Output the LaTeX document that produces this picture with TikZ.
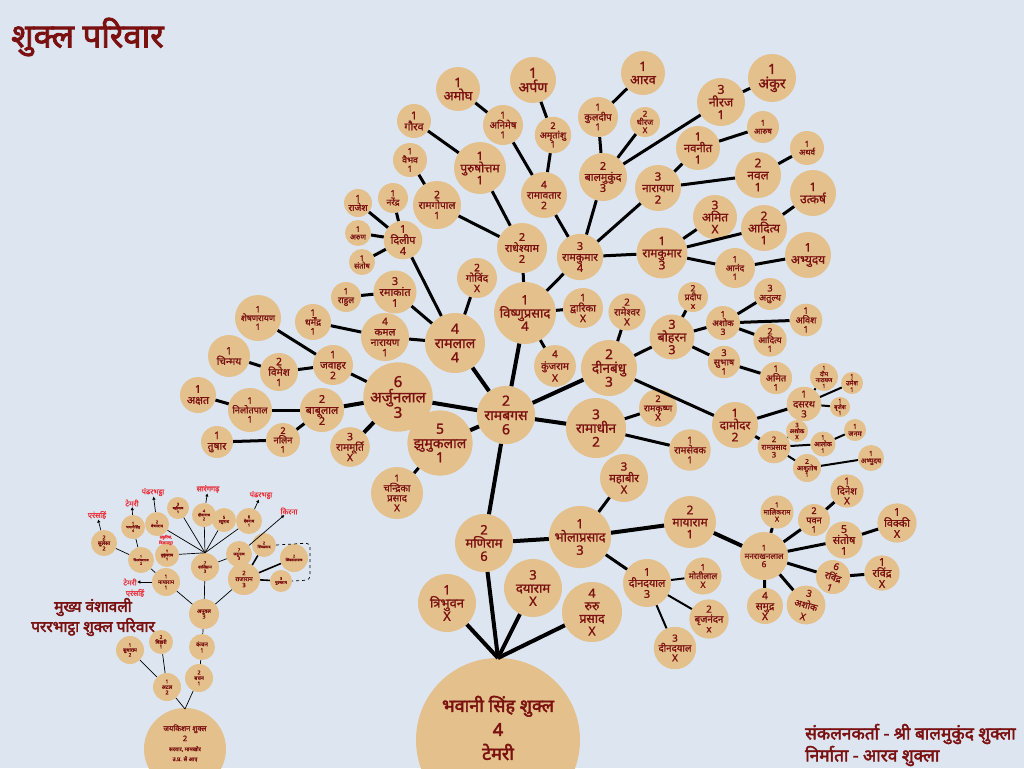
\documentclass[tikz,border=0pt]{standalone}
\usepackage{fontspec}
\newfontfamily\dev[Script=Devanagari, FakeBold=1.2]{Noto Sans}
\newfontfamily\devb[Script=Devanagari, FakeBold=2.6]{Noto Sans}
\usetikzlibrary{arrows.meta}
\definecolor{bgc}{HTML}{DDE6F0}
\definecolor{tanc}{HTML}{E3C08C}
\definecolor{dred}{HTML}{7A1010}
\definecolor{lred}{HTML}{E8303A}
\newcommand\pnode[6]{\node[pn, minimum size=#4*2pt, font=\dev\bfseries\fontsize{\fpeval{1.08*#5}}{\fpeval{1.1*#5}}\selectfont] (#1) at (#2,#3) {#6};}
\begin{document}
\begin{tikzpicture}[x=1pt,y=-1pt,
  pn/.style={circle, fill=tanc, text=dred, align=center, inner sep=0pt},
  edT/.style={line width=4pt},
  ed/.style={line width=3pt},
  edt/.style={line width=2pt},
  edm/.style={line width=0.7pt},
  edM/.style={line width=1.6pt},
  marr/.style={line width=0.7pt, -{Triangle[length=3pt,width=3pt]}},
  rlab/.style={text=lred, font=\dev\bfseries\fontsize{7.5}{7.5}\selectfont, inner sep=0.5pt, align=center},
  ttl/.style={text=dred, font=\devb\bfseries\fontsize{17.3}{20}\selectfont, inner sep=0pt}
]
\useasboundingbox (0,0) rectangle (1024,768);
\fill[bgc] (0,0) rectangle (1024,768);
\clip (0,0) rectangle (1024,768);

% ---------- titles ----------
\node[ttl, anchor=west, font=\devb\bfseries\fontsize{33}{33}\selectfont] (title) at (11,37) {शुक्ल परिवार};
\node[ttl, font=\devb\bfseries\fontsize{15.5}{20}\selectfont] (mt1) at (93,607) {मुख्य वंशावली};
\node[ttl, font=\devb\bfseries\fontsize{15.5}{20}\selectfont] (mt2) at (93,627) {पररभाट्ठा शुक्ल परिवार};
\node[ttl, anchor=west] (cr1) at (805,734) {संकलनकर्ता - श्री बालमुकुंद  शुक्ला};
\node[ttl, anchor=west] (cr2) at (805,756) {निर्माता - आरव शुक्ला};

% ---------- root ----------
\node[pn, minimum size=164pt] (root) at (498,740) {};
\node[text=dred, align=center, font=\devb\bfseries\fontsize{18}{24}\selectfont] (roottxt) at (498,728) {भवानी सिंह शुक्ल\\4\\टेमरी};
\coordinate (rtop) at (498,658);

\pnode{tribhuvan}{447}{603}{29}{12}{1\\त्रिभुवन\\X}
\pnode{maniram}{484}{543}{29}{12}{2\\मणिराम\\6}
\pnode{dayaram}{533}{588}{29}{12}{3\\दयाराम\\X}
\pnode{ruru}{592}{612}{30}{11.5}{4\\रुरु\\प्रसाद\\X}
\pnode{bhola}{580}{537}{30}{12}{1\\भोलाप्रसाद\\3}
\pnode{mahabir}{624}{478}{24}{10.5}{3\\महाबीर\\X}
\pnode{mayaram}{690}{522}{26}{11}{2\\मायाराम\\1}
\pnode{dindayalA}{647}{583}{24}{10}{1\\दीनदयाल\\3}
\pnode{dindayalB}{675}{648}{20}{9}{3\\दीनदयाल\\X}
\pnode{motilal}{703}{576}{18}{8}{1\\मोतीलाल\\X}
\pnode{brij}{709}{619}{19}{9}{2\\बृजनंदन\\x}
\pnode{manrakhan}{764}{556}{24}{7.5}{1\\मनराखनलाल\\6}
\pnode{malikram}{777}{512}{15}{6.5}{1\\मालिकराम\\X}
\pnode{pavan}{814}{520}{16}{8.5}{2\\पवन\\1}
\pnode{dinesh}{847}{491}{15}{9}{1\\दिनेश\\X}
\pnode{santoshB}{844}{540}{18}{10}{5\\संतोष\\1}
\pnode{vicky}{897}{523}{18}{10}{1\\विक्की\\X}
\node[pn, minimum size=34pt, font=\dev\bfseries\fontsize{9.5}{11}\selectfont, rotate=-18] (ravA) at (833,577) {6\\रविंद्र\\1};
\pnode{ravB}{882}{573}{17}{10}{1\\रविंद्र\\X}
\pnode{samudra}{765}{606}{18}{9.5}{4\\समुद्र\\X}
\node[pn, minimum size=36pt, font=\dev\bfseries\fontsize{9.5}{12}\selectfont, rotate=-15] (ashokC) at (806,605) {3\\अशोक\\X};

\pnode{ramadhin}{596}{428}{30}{12.5}{3\\रामाधीन\\2}
\pnode{ramkrishna}{658}{408}{18}{8.5}{2\\रामकृष्ण\\X}
\pnode{ramsevak}{690}{450}{20}{9}{1\\रामसेवक\\1}
\pnode{dinbandhu}{609}{368}{28}{12.5}{2\\दीनबंधु\\3}
\pnode{rameshwar}{627}{312}{18}{9}{2\\रामेश्वर\\X}
\pnode{bohran}{672}{337}{22}{11.5}{3\\बोहरन\\3}
\pnode{pradeep}{693}{297}{15}{8}{2\\प्रदीप\\x}
\pnode{ashokA}{723}{323}{17}{8}{1\\अशोक\\3}
\pnode{atulya}{770}{294}{16}{8.5}{3\\अतुल्य}
\pnode{avish}{806}{320}{16}{8.5}{1\\अविश\\1}
\pnode{adityaS}{770}{340}{15}{8}{2\\आदित्य\\1}
\pnode{subhash}{724}{362}{16}{8.5}{3\\सुभाष\\1}
\pnode{amitS}{776}{378}{16}{8.5}{1\\अमित\\1}
\pnode{damodar}{735}{425}{23}{11}{1\\दामोदर\\2}
\pnode{dasrath}{804}{404}{16}{9}{1\\दसरथ\\3}
\pnode{deep}{824}{377}{13}{5.5}{1\\दीप\\नारायण\\1}
\pnode{umesh}{852}{383}{11}{6}{1\\उमेश\\1}
\pnode{brijesh}{840}{407}{10}{5.5}{1\\बृजेश\\1}
\pnode{ramprasad}{774}{447}{16}{7}{2\\रामप्रसाद\\3}
\pnode{ashokT}{797}{431}{11}{5.5}{3\\अशोक\\X}
\pnode{alok}{823}{444}{12}{6}{1\\आलोक\\1}
\pnode{janam}{855}{430}{11}{6.5}{1\\जनम}
\pnode{abhyS}{871}{458}{13}{6.5}{1\\अभ्युदय}
\pnode{ashutosh}{807}{468}{14}{6}{2\\आशुतोष\\1}

\pnode{ramabagas}{506}{415}{29}{13}{2\\रामबगस\\6}
\pnode{vishnu}{525}{313}{29}{12}{1\\विष्णुप्रसाद\\4}
\pnode{dwarika}{583}{308}{20}{9.5}{1\\द्वारिका\\X}
\node[pn, minimum size=40pt, font=\dev\bfseries\fontsize{10}{12}\selectfont] (kunjram) at (555,366) {4\\कुंजराम\\X};
\pnode{radhe}{522}{248}{25}{10}{2\\राधेश्याम\\2}
\pnode{ramkumarA}{580}{257}{23}{10}{3\\रामकुमार\\4}
\pnode{govind}{477}{278}{20}{9.5}{2\\गोविंद\\X}
\pnode{ramlal}{455}{343}{30}{13}{4\\रामलाल\\4}
\pnode{arjun}{398}{397}{33}{14}{6\\अर्जुनलाल\\3}
\pnode{jhumuk}{440}{443}{30}{13}{5\\झुमुकलाल\\1}
\pnode{chandrika}{397}{493}{26}{9}{1\\चन्द्रिका\\प्रसाद\\X}

\pnode{amogh}{458}{89}{22}{12}{1\\अमोघ}
\pnode{arpan}{533}{80}{23}{13}{1\\अर्पण}
\pnode{aarav}{643}{73}{22}{12}{1\\आरव}
\pnode{gaurav}{414}{121}{17}{10}{1\\गौरव}
\pnode{animesh}{503}{125}{20}{9}{1\\अनिमेष\\1}
\pnode{amrit}{553}{135}{17}{8.5}{2\\अमृतांशु\\1}
\pnode{kuldeep}{598}{117}{20}{9}{1\\कुलदीप\\1}
\pnode{dheeraj}{645}{122}{15}{7.5}{2\\धीरज\\X}
\pnode{vaibhav}{410}{160}{17}{8}{1\\वैभव\\1}
\pnode{purush}{480}{168}{26}{11}{1\\पुरुषोत्तम\\1}
\pnode{ramavatar}{544}{195}{23}{9.5}{4\\रामावतार\\2}
\pnode{balmukund}{603}{177}{24}{10}{2\\बालमुकुंद\\3}
\pnode{ramgopal}{437}{205}{24}{9.5}{2\\रामगोपाल\\1}
\pnode{narayan}{658}{188}{23}{10.5}{3\\नारायण\\2}
\pnode{neeraj}{721}{102}{24}{11.5}{3\\नीरज\\1}
\pnode{ankur}{772}{78}{24}{13}{1\\अंकुर}
\pnode{aarush}{763}{127}{16}{7.5}{1\\आरुष}
\pnode{navneet}{698}{148}{22}{10.5}{1\\नवनीत\\1}
\pnode{atharv}{807}{148}{17}{7.5}{1\\अथर्व}
\pnode{naval}{758}{175}{23}{11}{2\\नवल\\1}
\pnode{utkarsh}{813}{193}{23}{11}{1\\उत्कर्ष}
\pnode{amitA}{715}{217}{22}{11}{3\\अमित\\X}
\pnode{adityaA}{764}{228}{23}{11}{2\\आदित्य\\1}
\pnode{ramkumarB}{662}{253}{25}{11}{1\\रामकुमार\\3}
\pnode{abhyA}{808}{255}{23}{11}{1\\अभ्युदय}
\pnode{anand}{735}{268}{20}{8}{1\\आनंद\\1}

\pnode{rajesh}{358}{203}{14}{8.5}{1\\राजेश}
\pnode{narendra}{393}{198}{15}{8}{1\\नरेंद्र}
\pnode{arun}{358}{233}{13}{7}{1\\अरुण}
\pnode{dilip}{403}{240}{19}{10}{1\\दिलीप\\4}
\pnode{santoshA}{362}{262}{13}{7}{1\\संतोष}
\pnode{rahul}{346}{297}{15}{8}{1\\राहुल}
\pnode{ramakant}{395}{292}{20}{10}{3\\रमाकांत\\1}
\pnode{shesh}{258}{318}{23}{8}{1\\शेषणरायण\\1}
\pnode{dharmendra}{313}{322}{18}{8.5}{1\\धर्मेंद्र\\1}
\pnode{kamal}{385}{337}{22}{9.5}{4\\कमल\\नारायण\\1}
\pnode{chinmay}{229}{356}{21}{9.5}{1\\चिन्मय}
\pnode{vimesh}{279}{372}{19}{9.5}{2\\विमेश\\1}
\pnode{jawahar}{333}{365}{20}{9.5}{1\\जवाहर\\2}
\pnode{akshat}{198}{395}{18}{10}{1\\अक्षत}
\pnode{nilotpal}{250}{410}{22}{8.5}{1\\निलोतपाल\\1}
\pnode{babulal}{322}{410}{19}{10}{2\\बाबूलाल\\2}
\pnode{tushar}{217}{442}{16}{9.5}{1\\तुषार}
\pnode{nalin}{283}{440}{17}{8.5}{2\\नलिन\\1}
\pnode{rammurti}{350}{447}{19}{9.5}{3\\राममूर्ति\\X}

% ---------- main edges ----------
\draw[edT] (tribhuvan) -- (rtop);
\draw[edT] (maniram) -- (rtop);
\draw[edT] (dayaram) -- (rtop);
\draw[edT] (ruru) -- (rtop);
\draw[edT] (maniram) -- (ramabagas);
\draw[edT] (maniram) -- (bhola);
\draw[edT] (bhola) -- (mayaram);
\draw[ed] (bhola) -- (mahabir);
\draw[ed] (bhola) -- (dindayalA);
\draw[edt] (dindayalA) -- (motilal);
\draw[edt] (dindayalA) -- (brij);
\draw[edt] (dindayalA) -- (dindayalB);
\draw[edT] (mayaram) -- (manrakhan);
\draw[ed] (manrakhan) -- (malikram);
\draw[ed] (manrakhan) -- (pavan);
\draw[ed] (manrakhan) -- (santoshB);
\draw[ed] (manrakhan) -- (ravA);
\draw[ed] (manrakhan) -- (ashokC);
\draw[ed] (manrakhan) -- (samudra);
\draw[ed] (pavan) -- (dinesh);
\draw[ed] (santoshB) -- (vicky);
\draw[ed] (ravA) -- (ravB);

\draw[edT] (ramabagas) -- (ramlal);
\draw[edT] (ramabagas) -- (vishnu);
\draw[edT] (ramabagas) -- (dinbandhu);
\draw[edT] (ramabagas) -- (ramadhin);
\draw[edT] (ramabagas) -- (arjun);
\draw[edT] (ramabagas) -- (jhumuk);
\draw[ed] (jhumuk) -- (chandrika);
\draw[ed] (ramadhin) -- (ramkrishna);
\draw[ed] (ramadhin) -- (ramsevak);
\draw[ed] (dinbandhu) -- (rameshwar);
\draw[ed] (dinbandhu) -- (bohran);
\draw[ed] (dinbandhu) -- (damodar);
\draw[ed] (bohran) -- (pradeep);
\draw[ed] (bohran) -- (ashokA);
\draw[ed] (bohran) -- (subhash);
\draw[ed] (ashokA) -- (atulya);
\draw[ed] (ashokA) -- (avish);
\draw[ed] (ashokA) -- (adityaS);
\draw[ed] (subhash) -- (amitS);
\draw[ed] (damodar) -- (dasrath);
\draw[ed] (damodar) -- (ramprasad);
\draw[edt] (dasrath) -- (deep);
\draw[edt] (dasrath) -- (umesh);
\draw[edt] (dasrath) -- (brijesh);
\draw[edt] (ramprasad) -- (ashokT);
\draw[edt] (ramprasad) -- (alok);
\draw[edt] (alok) -- (janam);
\draw[edt] (ramprasad) -- (ashutosh);
\draw[edt] (ashutosh) -- (abhyS);

\draw[ed] (vishnu) -- (radhe);
\draw[ed] (vishnu) -- (ramkumarA);
\draw[ed] (vishnu) -- (dwarika);
\draw[ed] (vishnu) -- (kunjram);
\draw[ed] (radhe) -- (ramgopal);
\draw[ed] (radhe) -- (purush);
\draw[ed] (ramgopal) -- (vaibhav);
\draw[ed] (purush) -- (gaurav);
\draw[ed] (ramavatar) -- (ramkumarA);
\draw[ed] (ramavatar) -- (animesh);
\draw[ed] (ramavatar) -- (amrit);
\draw[ed] (animesh) -- (amogh);
\draw[ed] (amrit) -- (arpan);
\draw[ed] (balmukund) -- (ramkumarA);
\draw[ed] (balmukund) -- (kuldeep);
\draw[ed] (balmukund) -- (dheeraj);
\draw[ed] (balmukund) -- (neeraj);
\draw[ed] (kuldeep) -- (aarav);
\draw[ed] (neeraj) -- (ankur);
\draw[ed] (narayan) -- (ramkumarA);
\draw[ed] (narayan) -- (navneet);
\draw[ed] (narayan) -- (naval);
\draw[ed] (navneet) -- (aarush);
\draw[ed] (naval) -- (atharv);
\draw[ed] (ramkumarA) -- (ramkumarB);
\draw[ed] (ramkumarB) -- (amitA);
\draw[ed] (ramkumarB) -- (adityaA);
\draw[ed] (ramkumarB) -- (anand);
\draw[ed] (adityaA) -- (utkarsh);
\draw[ed] (anand) -- (abhyA);

\draw[ed] (ramlal) -- (govind);
\draw[ed] (ramlal) -- (dilip);
\draw[ed] (ramlal) -- (ramakant);
\draw[ed] (ramlal) -- (kamal);
\draw[ed] (dilip) -- (rajesh);
\draw[ed] (dilip) -- (narendra);
\draw[ed] (dilip) -- (arun);
\draw[ed] (dilip) -- (santoshA);
\draw[ed] (ramakant) -- (rahul);
\draw[ed] (kamal) -- (dharmendra);
\draw[ed] (arjun) -- (jawahar);
\draw[edT] (arjun) -- (babulal);
\draw[edT] (arjun) -- (rammurti);
\draw[ed] (jawahar) -- (shesh);
\draw[ed] (jawahar) -- (vimesh);
\draw[ed] (vimesh) -- (chinmay);
\draw[ed] (babulal) -- (nilotpal);
\draw[ed] (babulal) -- (nalin);
\draw[ed] (nilotpal) -- (akshat);
\draw[ed] (nalin) -- (tushar);

% ---------- mini tree ----------
\pnode{mSulesa}{104}{543}{13}{5}{2\\सुलेसा\\2}
\pnode{mBhavani}{133}{527}{12}{3.4}{1\\भवानीसिंह\\4}
\pnode{mBechan}{157}{524}{12}{3.6}{2\\बेचनराम}
\pnode{mBadri}{178}{508}{11}{3.5}{3\\बद्रीनाथ\\1}
\pnode{mDina}{204}{515}{12}{3.6}{4\\दीनानाथ\\2}
\pnode{mRaghu}{224}{520}{12}{3.8}{5\\रघुनाथ}
\pnode{mDev}{249}{521}{13}{3.8}{6\\देवनाथ\\1}
\pnode{mVishv}{141}{560}{13}{3.2}{1\\विश्वंभरनाथ\\2}
\pnode{mMukund}{167}{555}{12}{3.6}{1\\मुकुंदराम\\1}
\pnode{mShali}{205}{567}{14}{3.8}{7\\शालिग्राम\\3}
\pnode{mJadu}{239}{554}{13}{3.8}{7\\जदुनाथ\\3}
\pnode{mShiv}{264}{545}{12}{3.4}{2\\शिवप्रसाद}
\pnode{mShivlal}{294}{558}{14}{3.4}{2\\शिवलालनाथ}
\pnode{mPurush}{281}{581}{11}{3.6}{3\\पुरुषराम}
\pnode{mRaja}{244}{579}{16}{5.5}{2\\राजाराम\\3}
\pnode{mMaya}{166}{582}{14}{5}{1\\मायाराम\\1}
\pnode{mApu}{204}{614}{15}{5}{अपूवल\\3}
\pnode{mKanchan}{202}{647}{13}{5.5}{कंचन\\1}
\pnode{mBachan}{199}{678}{14}{5}{2\\बचन\\1}
\pnode{mSudha}{130}{650}{14}{4.5}{1\\सुधाराम\\2}
\pnode{mBihari}{161}{642}{12}{4.5}{2\\बिहारी\\1}
\pnode{mAtal}{167}{687}{14}{5}{1\\अटल\\2}
\node[pn, minimum size=82pt] (mRoot) at (185,749) {};
\node[text=dred, align=center, font=\dev\bfseries\fontsize{5.5}{10}\selectfont] (mRoottxt) at (185,743) {{\fontsize{7.5}{10}\selectfont जयकिशन शुक्ल}\\{\fontsize{7.5}{10}\selectfont 2}\\सरवार, मामखोर\\उ.प्र. से आए};
\coordinate (mRtop) at (185,709);

\node[rlab] (lEr1) at (97,515) {एरंसहिं};
\node[rlab] (lTem1) at (132,503) {टेमरी};
\node[rlab] (lPan1) at (153,492) {पंढरभट्ठा};
\node[rlab] (lSar) at (208,489) {सारंगगढ़};
\node[rlab] (lPan2) at (261,495) {पंढरभट्ठा};
\node[rlab] (lKir) at (289,511) {किरना};
\node[rlab, font=\dev\bfseries\fontsize{4}{4.3}\selectfont] (lTha) at (166,540) {ठकुरिया,\\बिलासपुर};
\node[rlab] (lTem2) at (130,582) {टेमरी};
\node[rlab] (lEr2) at (135,593) {एरंसहिं};

\draw[marr] (mSulesa) -- (lEr1);
\draw[marr] (mBhavani) -- (lTem1);
\draw[marr] (mBechan) -- (lPan1);
\draw[marr] (mDina) -- (lSar);
\draw[marr] (mDev) -- (lPan2);
\draw[marr] (mJadu) -- (lKir);
\draw[marr] (mMaya) -- (lTem2);

\draw[edm] (mSulesa) -- (mVishv);
\draw[edm] (mBhavani) -- (mVishv);
\draw[edm] (mVishv) -- (mMaya);
\draw[edm] (mMaya) -- (mApu);
\draw[edm] (mBechan) -- (mShali.north);
\draw[edm] (mBadri) -- (mShali.north);
\draw[edm] (mDina) -- (mShali.north);
\draw[edm] (mRaghu) -- (mShali.north);
\draw[edm] (mDev) -- (mShali.north);
\draw[edm] (mMukund) -- (mShali.north);
\draw[edm] (mJadu) -- (mShali);
\draw[edm] (mShali) -- (mApu);
\draw[edm] (mRaja) -- (mApu);
\draw[edM] (mRaja) -- (mShiv);
\draw[edM] (mRaja) -- (mShivlal);
\draw[edM] (mRaja) -- (mPurush);
\draw[line width=0.7pt, dashed, rounded corners=4pt] (mShiv.east) -- (310,543) -- (310,580) -- (mPurush.east);
\draw[edm] (mApu) -- (mKanchan);
\draw[edm] (mKanchan) -- (mBachan);
\draw[edm] (mBachan) -- (mRtop);
\draw[edm] (mAtal) -- (mRtop);
\draw[edm] (mAtal) -- (mSudha);
\draw[edm] (mAtal) -- (mBihari);
\end{tikzpicture}
\end{document}
